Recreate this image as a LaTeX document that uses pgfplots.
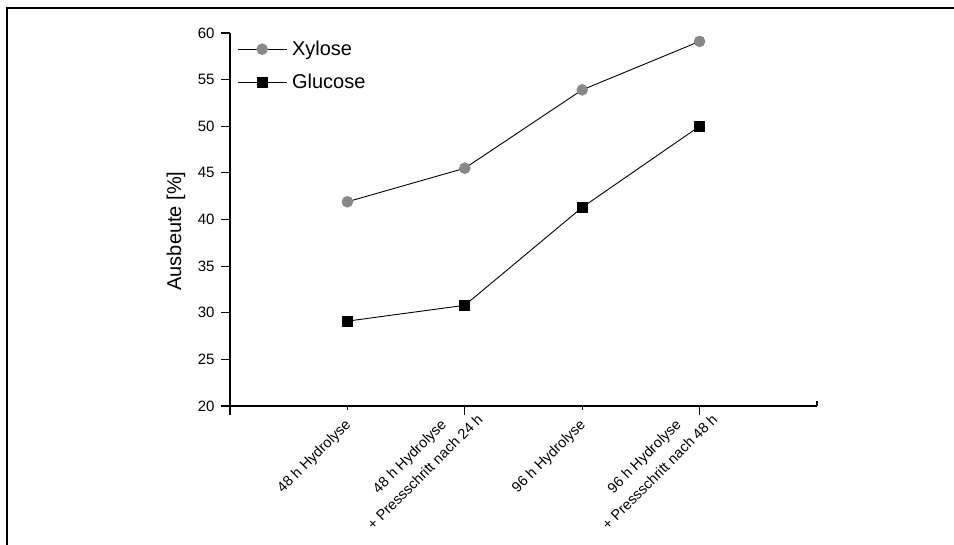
\documentclass[border=0pt]{standalone}
\usepackage{fontspec}
\setmainfont{Liberation Sans}
\usepackage{pgfplots}
\pgfplotsset{compat=1.18}
\definecolor{xgray}{RGB}{136,136,136}
\begin{document}
\begin{tikzpicture}
\useasboundingbox (-230pt,-139pt) rectangle (724pt,406pt);
\draw[line width=2pt] (-222.5pt,-141pt) -- (-222.5pt,398pt) -- (726pt,398pt);
\begin{axis}[
  width=587pt, height=373pt, scale only axis,
  xmin=0, xmax=5, ymin=20, ymax=60,
  axis x line*=bottom, axis y line*=left,
  axis line style={-, line width=1.1pt},
  clip=false,
  xtick={1,3},
  xticklabels={48 h Hydrolyse,96 h Hydrolyse},
  major x tick style={draw=none},
  minor xtick={1,3},
  extra x ticks={0,2,4},
  extra x tick labels={{},{48 h Hydrolyse\\+ Pressschritt nach 24 h},{96 h Hydrolyse\\+ Pressschritt nach 48 h}},
  extra x tick style={major x tick style={draw=black}, xticklabel style={xshift=14pt, yshift=15pt}},
  ytick={20,25,...,60},
  yticklabel={\fontsize{15}{16}\selectfont\pgfmathprintnumber[assume math mode=true]{\tick}},
  xtick align=outside, ytick align=outside,
  major tick length=9pt, minor tick length=4pt,
  tick style={black, line width=1.1pt},
  yticklabel style={xshift=-3pt},
  xticklabel style={rotate=45, anchor=north east, align=center, yshift=4pt, xshift=-1pt, font=\fontsize{14.5}{22}\selectfont},
  ylabel={Ausbeute [\%]},
  ylabel style={font=\fontsize{20}{24}\selectfont, at={(axis description cs:-0.092,0.469)}, anchor=center},
  legend style={at={(0,1)}, anchor=north west, xshift=7pt, yshift=-6pt, draw=none, fill=none,
    font=\fontsize{20}{24}\selectfont, row sep=13pt, inner sep=0pt},
  legend cell align=left,
  legend image code/.code={\draw[#1, mark repeat=2, mark phase=2] plot coordinates {(0pt,0pt) (24.5pt,0pt) (49pt,0pt)};\path (52pt,0pt);},
]
\addplot[black, line width=0.9pt, mark=*, mark size=5.3pt, mark options={fill=xgray, draw=xgray}]
  coordinates {(1,41.9) (2,45.5) (3,53.9) (4,59.1)};
\addlegendentry{Xylose}
\addplot[black, line width=0.9pt, mark=square*, mark size=5pt, mark options={fill=black, draw=black}]
  coordinates {(1,29.1) (2,30.8) (3,41.3) (4,50.0)};
\addlegendentry{Glucose}
\draw[line width=1.1pt] (axis cs:5,20) -- ++(0pt,5pt);
\end{axis}
\end{tikzpicture}
\end{document}
